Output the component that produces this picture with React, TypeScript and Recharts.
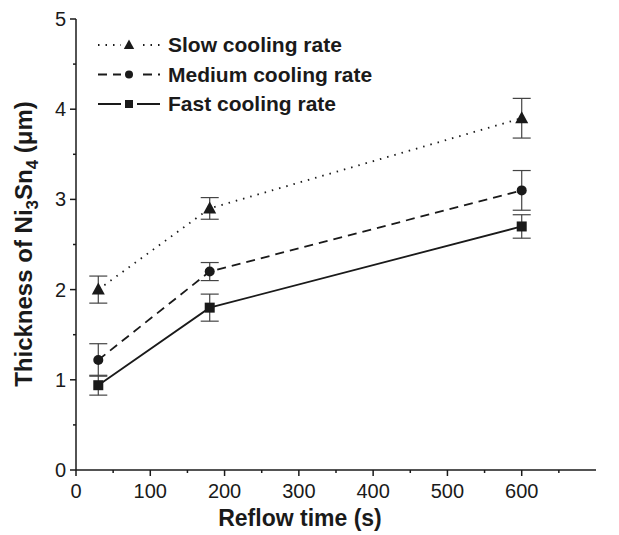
import React from 'react';
import { LineChart, Line, XAxis, YAxis, ErrorBar } from 'recharts';

// Reflow times (s)
const reflowTimes = [30, 180, 600];

// Ni3Sn4 thickness (um) and error bars
const slowThickness = [2.0, 2.9, 3.9];
const slowError = [0.15, 0.12, 0.22];
const mediumThickness = [1.22, 2.2, 3.1];
const mediumError = [0.18, 0.1, 0.22];
const fastThickness = [0.94, 1.8, 2.7];
const fastError = [0.11, 0.15, 0.13];

const xTicks = [0, 50, 100, 150, 200, 250, 300, 350, 400, 450, 500, 550, 600, 650];
const yTicks = [0, 0.5, 1, 1.5, 2, 2.5, 3, 3.5, 4, 4.5, 5];

const FONT = '"Liberation Sans", Arial, sans-serif';
const INK = '#1a1a1a';

const data = reflowTimes.map((t, i) => ({
  time: t,
  slow: slowThickness[i],
  slowErr: slowError[i],
  medium: mediumThickness[i],
  mediumErr: mediumError[i],
  fast: fastThickness[i],
  fastErr: fastError[i],
}));

type Shape = 'triangle' | 'circle' | 'square';

const series: { key: string; name: string; dash?: string; shape: Shape }[] = [
  { key: 'slow', name: 'Slow cooling rate', dash: '1.5 6', shape: 'triangle' },
  { key: 'medium', name: 'Medium cooling rate', dash: '9 6', shape: 'circle' },
  { key: 'fast', name: 'Fast cooling rate', shape: 'square' },
];

const Marker = ({ cx, cy, shape, s = 1 }: { cx: number; cy: number; shape: Shape; s?: number }) => {
  if (shape === 'triangle') {
    return <polygon points={`${cx},${cy - 7 * s} ${cx - 6.5 * s},${cy + 5 * s} ${cx + 6.5 * s},${cy + 5 * s}`} fill={INK} />;
  }
  if (shape === 'circle') {
    return <circle cx={cx} cy={cy} r={5 * s} fill={INK} />;
  }
  return <rect x={cx - 5 * s} y={cy - 5 * s} width={10 * s} height={10 * s} fill={INK} />;
};

const XTick = (props: any) => {
  const { x, y, payload } = props;
  const major = payload.value % 100 === 0;
  return (
    <g>
      <line x1={x} x2={x} y1={y} y2={y + (major ? 6 : 3)} stroke={INK} strokeWidth={1.5} />
      {major && (
        <text x={x} y={y + 28} textAnchor="middle" fontFamily={FONT} fontSize={20} fill={INK}>
          {payload.value}
        </text>
      )}
    </g>
  );
};

const YTick = (props: any) => {
  const { x, y, payload } = props;
  const major = Number.isInteger(payload.value);
  return (
    <g>
      <line x1={x} x2={x - (major ? 6 : 3)} y1={y} y2={y} stroke={INK} strokeWidth={1.5} />
      {major && (
        <text x={x - 10} y={y + 7} textAnchor="end" fontFamily={FONT} fontSize={20} fill={INK}>
          {payload.value}
        </text>
      )}
    </g>
  );
};

const Legend = () => (
  <svg width={360} height={100} style={{ position: 'absolute', left: 80, top: 18 }}>
    {series.map((s, i) => {
      const y = 19 + i * 29.5;
      return (
        <g key={s.key}>
          <line x1={10} x2={72} y1={y} y2={y} stroke={INK} strokeWidth={1.8} strokeDasharray={s.dash} />
          <rect x={33} y={y - 7} width={16} height={14} fill="#fff" />
          <Marker cx={41} cy={y} shape={s.shape} s={0.8} />
          <text x={80} y={y + 7} fontFamily={FONT} fontSize={21} fontWeight="bold" fill={INK}>
            {s.name}
          </text>
        </g>
      );
    })}
  </svg>
);

const App: React.FC = () => {
  return (
    <div style={{ position: 'relative', width: 600, height: 527 }}>
      <LineChart width={600} height={527} data={data} margin={{ top: 11, right: 12, bottom: 15, left: 8 }}>
        <XAxis
          dataKey="time"
          type="number"
          domain={[0, 700]}
          ticks={xTicks}
          interval={0}
          tickSize={0}
          tickMargin={0}
          tickLine={false}
          tick={<XTick />}
          height={50}
          stroke={INK}
          strokeWidth={1.5}
          allowDataOverflow
        />
        <YAxis
          type="number"
          domain={[0, 5]}
          ticks={yTicks}
          interval={0}
          tickSize={0}
          tickMargin={0}
          tickLine={false}
          tick={<YTick />}
          width={60}
          stroke={INK}
          strokeWidth={1.5}
        />
        {series.map((s) => (
          <Line
            key={s.key}
            dataKey={s.key}
            stroke={INK}
            strokeWidth={1.8}
            strokeDasharray={s.dash}
            isAnimationActive={false}
            activeDot={false}
            dot={(p: any) => <Marker key={`${s.key}-${p.index}`} cx={p.cx} cy={p.cy} shape={s.shape} />}
          >
            <ErrorBar dataKey={`${s.key}Err`} width={9} stroke="#444" strokeWidth={1.2} direction="y" />
          </Line>
        ))}
        <text
          transform="translate(24, 236) rotate(-90)"
          textAnchor="middle"
          fontFamily={FONT}
          fontSize={24}
          fontWeight="bold"
          fill={INK}
        >
          Thickness of Ni
          <tspan dy={6} fontSize={17}>3</tspan>
          <tspan dy={-6}>Sn</tspan>
          <tspan dy={6} fontSize={17}>4</tspan>
          <tspan dy={-6}> (μm)</tspan>
        </text>
        <text x={292} y={518} textAnchor="middle" fontFamily={FONT} fontSize={23} fontWeight="bold" fill={INK}>
          Reflow time (s)
        </text>
      </LineChart>
      <Legend />
    </div>
  );
};

export default App;
